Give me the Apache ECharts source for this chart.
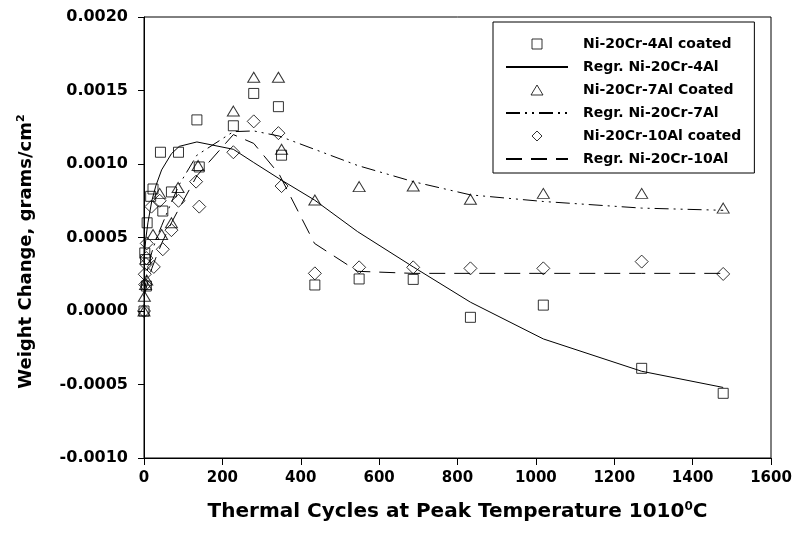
<!DOCTYPE html>
<html>
<head>
<meta charset="utf-8">
<script src="https://cdn.jsdelivr.net/npm/echarts@6/dist/echarts.min.js"></script>
<style>html,body{margin:0;padding:0;background:#fff}#c{width:805px;height:540px}</style>
</head>
<body>
<div id="c"></div>
<script>
// Ni-20Cr-4Al coated (squares)
const al4X = [0, 2, 4, 6, 8, 17, 23, 42, 48, 70, 88, 135, 141, 228, 280, 343, 351, 436, 549, 687, 833, 1019, 1270, 1478];
const al4Y = [0, 0.000395, 0.00035, 0.00017, 0.0006, 0.00078, 0.00083, 0.00108, 0.00068, 0.00081, 0.00108, 0.0013, 0.00098, 0.00126, 0.00148, 0.00139, 0.00106, 0.000177, 0.000218, 0.000215, -0.000043, 0.00004, -0.00039, -0.00056];
// Ni-20Cr-7Al Coated (triangles)
const al7X = [0, 1, 4, 7, 23, 40, 45, 70, 87, 138, 228, 280, 343, 351, 436, 549, 687, 833, 1019, 1270, 1478];
const al7Y = [0, 0.0001, 0.00018, 0.00021, 0.00052, 0.0008, 0.00052, 0.0006, 0.00084, 0.00099, 0.00136, 0.00159, 0.00159, 0.0011, 0.000755, 0.000846, 0.00085, 0.00076, 0.0008, 0.0008, 0.0007];
// Ni-20Cr-10Al coated (diamonds)
const al10X = [0, 2, 3, 5, 6, 7, 19, 25, 40, 48, 70, 88, 133, 141, 228, 280, 343, 351, 436, 549, 687, 833, 1019, 1270, 1478];
const al10Y = [0, 0.00025, 0.00018, 0.00032, 0.00036, 0.00046, 0.00071, 0.0003, 0.00075, 0.00042, 0.00055, 0.00075, 0.00088, 0.00071, 0.00108, 0.00129, 0.00121, 0.00085, 0.000256, 0.000297, 0.000297, 0.00029, 0.00029, 0.000336, 0.000252];
// Regression curves
const fit4X = [0, 5, 10, 20, 30, 45, 70, 90, 135, 228, 280, 345, 435, 545, 687, 833, 1019, 1270, 1478];
const fit4Y = [0.00035, 0.0005, 0.0006, 0.00075, 0.00085, 0.00096, 0.00107, 0.00112, 0.00115, 0.0011, 0.00101, 0.0009, 0.000755, 0.00054, 0.0003, 0.00006, -0.00019, -0.00041, -0.00052];
const fit7X = [0, 10, 20, 30, 45, 70, 90, 135, 228, 280, 345, 435, 545, 687, 833, 1019, 1270, 1478];
const fit7Y = [0.0001, 0.0003, 0.0004, 0.00048, 0.00058, 0.00074, 0.00086, 0.00106, 0.00122, 0.001225, 0.00119, 0.0011, 0.00099, 0.00088, 0.00079, 0.000745, 0.0007, 0.000685];
const fit10X = [0, 10, 20, 30, 45, 70, 90, 135, 228, 280, 345, 435, 545, 687, 833, 1019, 1270, 1478];
const fit10Y = [0.0001, 0.0002, 0.00029, 0.00036, 0.00046, 0.0006, 0.0007, 0.00092, 0.0012, 0.00114, 0.00093, 0.00046, 0.00027, 0.000256, 0.000256, 0.000256, 0.000256, 0.000256];
const xTicks = [0, 200, 400, 600, 800, 1000, 1200, 1400, 1600];
const yTicks = ['-0.0010', '-0.0005', '0.0000', '0.0005', '0.0010', '0.0015', '0.0020'];

const names = ['Ni-20Cr-4Al coated', 'Regr. Ni-20Cr-4Al', 'Ni-20Cr-7Al Coated', 'Regr. Ni-20Cr-7Al', 'Ni-20Cr-10Al coated', 'Regr. Ni-20Cr-10Al'];
const zip = (a, b) => a.map((v, i) => [v, b[i]]);
const FONT = '"DejaVu Sans", sans-serif';
const mk = {color: 'rgba(0,0,0,0)', borderColor: '#000', borderWidth: 1};
const hideSym = {opacity: 0};
const SQ = 'path://M0,0L10,0L10,10L0,10Z';
const TRI = 'path://M6,0L12,10L0,10Z';
const DIA = 'path://M6,0L12,6L6,12L0,6Z';

const chart = echarts.init(document.getElementById('c'), null, {renderer: 'canvas'});
chart.setOption({
  animation: false,
  backgroundColor: '#fff',
  grid: {left: 144, right: 34, top: 17, bottom: 82, show: true, borderColor: '#000', borderWidth: 1, backgroundColor: 'transparent'},
  legend: {
    orient: 'vertical', left: 493, top: 22,
    symbolKeepAspect: true,
    data: [
      {name: names[0], icon: SQ, itemStyle: {color: 'rgba(0,0,0,0)', borderColor: '#000', borderWidth: 1}},
      {name: names[1], itemStyle: hideSym},
      {name: names[2], icon: TRI, itemStyle: {color: 'rgba(0,0,0,0)', borderColor: '#000', borderWidth: 1}},
      {name: names[3], itemStyle: hideSym},
      {name: names[4], icon: DIA, itemStyle: {color: 'rgba(0,0,0,0)', borderColor: '#000', borderWidth: 1}},
      {name: names[5], itemStyle: hideSym}
    ],
    itemWidth: 62, itemHeight: 10, itemGap: 7,
    padding: [14, 13, 6, 12],
    borderColor: '#000', borderWidth: 1, borderRadius: 0,
    textStyle: {fontFamily: FONT, fontSize: 14, fontWeight: 'bold', color: '#000', lineHeight: 16, padding: [0, 0, 0, 10]}
  },
  xAxis: {
    type: 'value', min: 0, max: 1600, interval: 200,
    name: 'Thermal Cycles at Peak Temperature 1010{s|0}C', nameLocation: 'middle', nameGap: 43,
    nameTextStyle: {fontFamily: FONT, fontSize: 20, fontWeight: 'bold', color: '#000', rich: {s: {fontSize: 12, fontWeight: 'bold', verticalAlign: 'top', padding: [0, 0, 10, 0], fontFamily: FONT}}},
    axisLine: {onZero: false, lineStyle: {color: '#000', width: 1}},
    axisTick: {inside: false, length: 7, lineStyle: {color: '#000'}},
    axisLabel: {fontFamily: FONT, fontSize: 15, fontWeight: 'bold', color: '#000', margin: 13, formatter: v => String(xTicks[Math.round(v / 200)])},
    splitLine: {show: false}
  },
  yAxis: {
    type: 'value', min: -0.001, max: 0.002, interval: 0.0005,
    name: 'Weight Change, grams/cm{s|2}', nameLocation: 'middle', nameGap: 108, nameRotate: 90,
    nameTextStyle: {fontFamily: FONT, fontSize: 18, fontWeight: 'bold', color: '#000', padding: [0, 28, 0, 0], rich: {s: {fontSize: 11, fontWeight: 'bold', fontFamily: FONT, padding: [0, 0, 9, 0]}}},
    axisLine: {onZero: false, lineStyle: {color: '#000', width: 1}},
    axisTick: {inside: false, length: 6, lineStyle: {color: '#000'}},
    axisLabel: {fontFamily: FONT, fontSize: 16, fontWeight: 'bold', color: '#000', margin: 16, formatter: v => yTicks[Math.round((v + 0.001) / 0.0005)]},
    splitLine: {show: false}
  },
  series: [
    {name: names[0], type: 'scatter', data: zip(al4X, al4Y), symbol: 'rect', symbolSize: 10, itemStyle: mk, z: 5},
    {name: names[1], type: 'line', data: zip(fit4X, fit4Y), symbol: 'none', itemStyle: {color: '#000'}, lineStyle: {color: '#000', width: 1, type: 'solid'}, z: 3},
    {name: names[2], type: 'scatter', data: zip(al7X, al7Y), symbol: 'triangle', symbolSize: [12, 10], itemStyle: mk, z: 5},
    {name: names[3], type: 'line', data: zip(fit7X, fit7Y), symbol: 'none', itemStyle: {color: '#000'}, lineStyle: {color: '#000', width: 1, type: [14, 5, 2, 5, 2, 5]}, z: 3},
    {name: names[4], type: 'scatter', data: zip(al10X, al10Y), symbol: 'diamond', symbolSize: [13, 13], itemStyle: mk, z: 5},
    {name: names[5], type: 'line', data: zip(fit10X, fit10Y), symbol: 'none', itemStyle: {color: '#000'}, lineStyle: {color: '#000', width: 1, type: [16, 9]}, z: 3}
  ]
});
</script>
</body>
</html>
